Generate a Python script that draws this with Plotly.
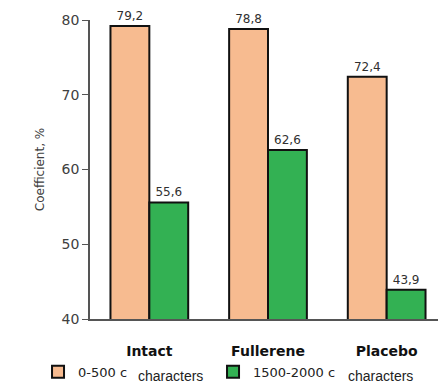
import plotly.graph_objects as go

categories = ["Intact", "Fullerene", "Placebo"]
series_names = ["0-500 c", "1500-2000 c"]
values_short = [79.2, 78.8, 72.4]
values_long = [55.6, 62.6, 43.9]
y_ticks = [40, 50, 60, 70, 80]
label_short = [f"{v:.1f}".replace(".", ",") for v in values_short]
label_long = [f"{v:.1f}".replace(".", ",") for v in values_long]

colors = ["#F7BB90", "#33B153"]
font = "DejaVu Sans, Verdana, sans-serif"

fig = go.Figure()
fig.add_trace(go.Bar(
    x=categories, y=values_short, name=series_names[0], text=label_short,
    textposition="outside", cliponaxis=False,
    marker=dict(color=colors[0], line=dict(color="#111111", width=2)),
    textfont=dict(family=font, size=12, color="#303030"),
))
fig.add_trace(go.Bar(
    x=categories, y=values_long, name=series_names[1], text=label_long,
    textposition="outside", cliponaxis=False,
    marker=dict(color=colors[1], line=dict(color="#111111", width=2)),
    textfont=dict(family=font, size=12, color="#303030"),
))

fig.update_layout(
    width=446, height=387,
    margin=dict(l=82, r=8, t=12, b=76, autoexpand=False),
    paper_bgcolor="white", plot_bgcolor="white",
    barmode="group", bargap=0.345, bargroupgap=0,
    font=dict(family=font, color="#404040"),
    showlegend=True,
    legend=dict(orientation="h", x=-0.146, y=-0.177, xanchor="left", yanchor="middle",
                entrywidth=130, entrywidthmode="pixels",
                font=dict(family=font, size=13, color="#222222"),
                bgcolor="rgba(0,0,0,0)", itemwidth=30),
    xaxis=dict(showline=True, linecolor="#555555", linewidth=1.5, ticks="",
               automargin=False,
               tickfont=dict(family=font, size=14, color="#111111", weight="bold"),
               ticklabelstandoff=18),
    yaxis=dict(range=[40, 80], tickvals=y_ticks, showgrid=False, zeroline=False,
               automargin=False,
               showline=True, linecolor="#555555", linewidth=1.5,
               ticks="outside", ticklen=6, tickcolor="#555555",
               tickfont=dict(family=font, size=14, color="#404040"),
               title=dict(text="Coefficient, %", standoff=14,
                          font=dict(family=font, size=12, color="#404040"))),
)

fig.add_annotation(x=0.225, y=-0.19, xref="paper", yref="paper", text="characters",
                   showarrow=False, font=dict(family="Liberation Sans, Arial", size=14, color="#222222"),
                   xanchor="center", yanchor="middle")
fig.add_annotation(x=0.815, y=-0.19, xref="paper", yref="paper", text="characters",
                   showarrow=False, font=dict(family="Liberation Sans, Arial", size=14, color="#222222"),
                   xanchor="center", yanchor="middle")

fig.write_html("out.html")
